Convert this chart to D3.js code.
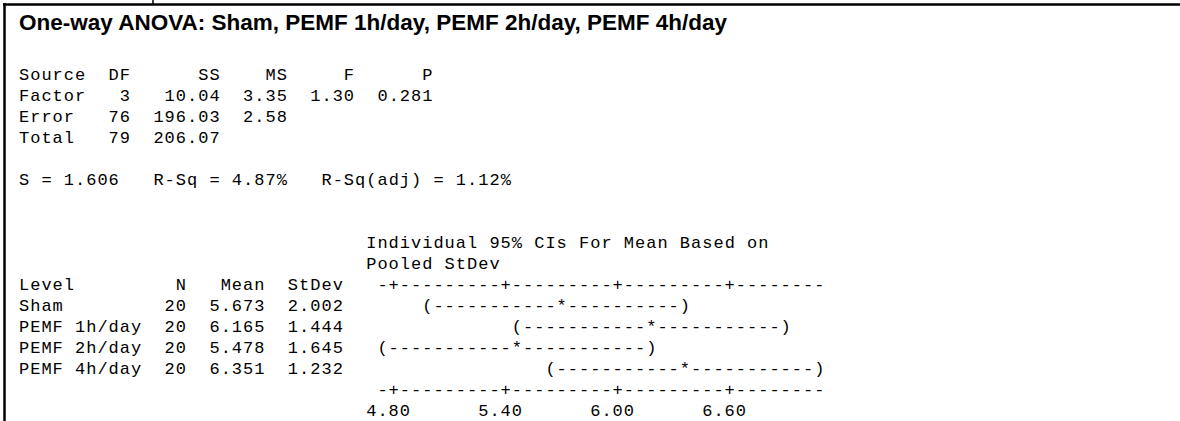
<!DOCTYPE html>
<html>
<head>
<meta charset="utf-8">
<script src="https://d3js.org/d3.v7.min.js"></script>
<style>
  body { margin: 0; background: #fff; }
  svg { display: block; }
</style>
</head>
<body>
<script>
"use strict";

// ANOVA table
const anovaSources = ["Factor", "Error", "Total"]
const anovaDF = [3, 76, 79]
const anovaSS = [10.04, 196.03, 206.07]
const anovaMS = [3.35, 2.58, null]
const anovaF = [1.30, null, null]
const anovaP = [0.281, null, null]

// summary line
const pooledS = 1.606
const rSq = 4.87
const rSqAdj = 1.12

// levels + interval plot
const levels = ["Sham", "PEMF 1h/day", "PEMF 2h/day", "PEMF 4h/day"]
const nObs = [20, 20, 20, 20]
const means = [5.673, 6.165, 5.478, 6.351]
const stdevs = [2.002, 1.444, 1.645, 1.232]
const ciLower = [4.957, 5.449, 4.762, 5.635]
const ciUpper = [6.389, 6.881, 6.194, 7.067]
const tickValues = [4.80, 5.40, 6.00, 6.60]

const titleText = "One-way ANOVA: Sham, PEMF 1h/day, PEMF 2h/day, PEMF 4h/day"

;(function(){
    const measurements = {
        width: 1180,
        height: 421,
        x0: 19,          // left edge of the text
        charW: 11.2,     // monospace cell width
        firstLine: 80,   // baseline of "Source" row
        lineH: 21.0
    }
    const monoFont = "'Liberation Mono', 'DejaVu Sans Mono', monospace"

    const svg = d3.select("body").append("svg")
        .attr("width", measurements.width)
        .attr("height", measurements.height)

    // baseline of text line i (0 = Source row)
    const lineY = d3.scaleLinear()
        .domain([0, 1])
        .range([measurements.firstLine, measurements.firstLine + measurements.lineH])

    // value -> centre of character cell, 4.80 sits on column 33, 6.60 on column 63
    const x = d3.scaleLinear()
        .domain([tickValues[0], tickValues[tickValues.length - 1]])
        .range([measurements.x0 + 33.5 * measurements.charW, measurements.x0 + 63.5 * measurements.charW])

    const colOf = v => Math.round((x(v) - measurements.x0) / measurements.charW - 0.5)
    const cellX = col => measurements.x0 + col * measurements.charW

    drawFrame()
    drawTitle()
    drawTable()
    drawIntervals()

    function drawFrame() {
        svg.append("line")
            .attr("x1", 3).attr("x2", measurements.width)
            .attr("y1", 4.5).attr("y2", 4.5)
            .attr("stroke", "#000").attr("stroke-width", 2.5)
        svg.append("line")
            .attr("x1", 4.5).attr("x2", 4.5)
            .attr("y1", 3.3).attr("y2", measurements.height)
            .attr("stroke", "#000").attr("stroke-width", 2.5)
        // little stub poking above the box
        svg.append("line")
            .attr("x1", 153).attr("x2", 153)
            .attr("y1", 0).attr("y2", 5)
            .attr("stroke", "#000").attr("stroke-width", 1.5)
    }

    function drawTitle() {
        svg.append("text")
            .attr("x", 19)
            .attr("y", 30)
            .style("font-family", "'Liberation Sans', Arial, sans-serif")
            .style("font-weight", "bold")
            .style("font-size", "22.5px")
            .text(titleText)
    }

    function monoLine(str, lineIdx, col) {
        svg.append("text")
            .attr("x", cellX(col || 0))
            .attr("y", lineY(lineIdx))
            .style("font-family", monoFont)
            .style("font-size", "17px")
            .style("letter-spacing", "1px")
            .style("white-space", "pre")
            .text(str)
    }

    function fmt(v, d, w) {
        return v == null ? "" : v.toFixed(d).padStart(w)
    }

    function drawTable() {
        monoLine("Source  DF      SS    MS     F      P", 0)
        anovaSources.forEach(function(s, i) {
            const row = s.padEnd(6) + String(anovaDF[i]).padStart(4) +
                fmt(anovaSS[i], 2, 8) + fmt(anovaMS[i], 2, 6) +
                fmt(anovaF[i], 2, 6) + fmt(anovaP[i], 3, 7)
            monoLine(row, i + 1)
        })

        monoLine("S = " + pooledS.toFixed(3) + "   R-Sq = " + rSq.toFixed(2) +
            "%   R-Sq(adj) = " + rSqAdj.toFixed(2) + "%", 5)

        monoLine("Individual 95% CIs For Mean Based on", 8, 31)
        monoLine("Pooled StDev", 9, 31)

        monoLine("Level".padEnd(11) + "N".padStart(4) + "Mean".padStart(7) + "StDev".padStart(7), 10)
        levels.forEach(function(lv, i) {
            monoLine(lv.padEnd(11) + String(nObs[i]).padStart(4) +
                means[i].toFixed(3).padStart(7) + stdevs[i].toFixed(3).padStart(7), 11 + i)
        })
    }

    function charCell(ch, col, lineIdx) {
        svg.append("text")
            .attr("x", cellX(col))
            .attr("y", lineY(lineIdx))
            .style("font-family", monoFont)
            .style("font-size", "17px")
            .text(ch)
    }

    function drawAxisRow(lineIdx) {
        const tickCols = tickValues.map(colOf)
        const start = tickCols[0] - 1
        const end = tickCols[tickCols.length - 1] + 8
        for (let c = start; c <= end; c++) {
            charCell(tickCols.indexOf(c) >= 0 ? "+" : "-", c, lineIdx)
        }
    }

    function drawIntervals() {
        drawAxisRow(10)
        drawAxisRow(15)

        levels.forEach(function(lv, i) {
            const lo = colOf(ciLower[i])
            const mid = colOf(means[i])
            const hi = colOf(ciUpper[i])
            for (let c = lo; c <= hi; c++) {
                let ch = "-"
                if (c === lo) ch = "("
                else if (c === hi) ch = ")"
                else if (c === mid) ch = "*"
                charCell(ch, c, 11 + i)
            }
        })

        // tick labels: "4.80" starts two cells left of its "+"
        svg.selectAll("text.tick")
            .data(tickValues)
            .enter()
            .append("text")
            .attr("class", "tick")
            .attr("x", d => cellX(colOf(d) - 2))
            .attr("y", lineY(16))
            .style("font-family", monoFont)
            .style("font-size", "17px")
            .style("letter-spacing", "1px")
            .text(d => d.toFixed(2))
    }
})()
</script>
</body>
</html>
